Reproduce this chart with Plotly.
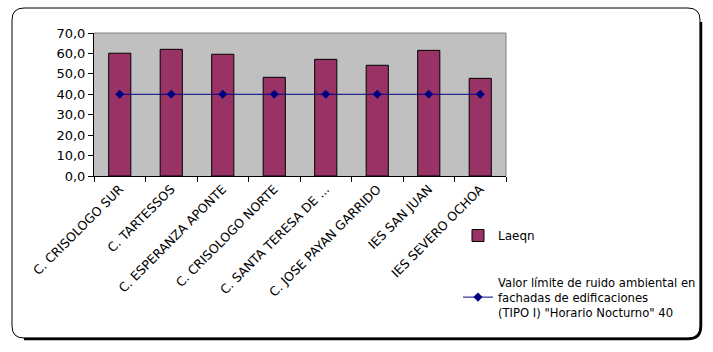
import plotly.graph_objects as go

categories = ["C. CRISOLOGO SUR", "C. TARTESSOS", "C. ESPERANZA APONTE", "C. CRISOLOGO NORTE",
              "C. SANTA TERESA DE ...", "C. JOSE PAYAN GARRIDO", "IES SAN JUAN", "IES SEVERO OCHOA"]
laeqn = [60.1, 62.0, 59.6, 48.3, 57.1, 54.2, 61.5, 47.8]
limite = [40, 40, 40, 40, 40, 40, 40, 40]
y_ticks = [0, 10, 20, 30, 40, 50, 60, 70]

W, H = 713, 352
L, R, T, B = 94, 506, 33, 176

def px(x):
    return (x - L) / (R - L)

def py(y):
    return (B - y) / (B - T)

FONT = "DejaVu Sans, Liberation Sans, Arial, sans-serif"

fig = go.Figure()
fig.add_trace(go.Bar(
    x=categories, y=laeqn, name="Laeqn",
    marker=dict(color="#993366", line=dict(color="black", width=1)),
    legend="legend",
))
fig.add_trace(go.Scatter(
    x=categories, y=limite, mode="lines+markers",
    name='Valor límite de ruido ambiental en<br>fachadas de edificaciones<br>(TIPO I) "Horario Nocturno" 40',
    line=dict(color="#000080", width=1),
    marker=dict(symbol="diamond", size=7, color="#000080"),
    legend="legend2",
))

def rrect(x0, y0, x1, y1, r):
    pts = (f"M {px(x0 + r)},{py(y0)} L {px(x1 - r)},{py(y0)} Q {px(x1)},{py(y0)} {px(x1)},{py(y0 + r)} "
           f"L {px(x1)},{py(y1 - r)} Q {px(x1)},{py(y1)} {px(x1 - r)},{py(y1)} "
           f"L {px(x0 + r)},{py(y1)} Q {px(x0)},{py(y1)} {px(x0)},{py(y1 - r)} "
           f"L {px(x0)},{py(y0 + r)} Q {px(x0)},{py(y0)} {px(x0 + r)},{py(y0)} Z")
    return pts

shadow = (f"M {px(701)},{py(22)} L {px(701)},{py(326)} Q {px(701)},{py(339)} {px(688)},{py(339)} "
          f"L {px(24)},{py(339)}")

fig.update_layout(
    width=W, height=H,
    margin=dict(l=L, r=W - R, t=T, b=H - B, autoexpand=False),
    paper_bgcolor="white", plot_bgcolor="#C0C0C0",
    font=dict(family=FONT, size=12, color="black"),
    separators=",.",
    bargap=0.57,
    showlegend=True,
    legend=dict(xref="container", yref="container", x=458 / W, y=1 - 221 / H,
                xanchor="left", yanchor="top",
                bgcolor="rgba(0,0,0,0)", font=dict(size=12), itemwidth=30),
    legend2=dict(xref="container", yref="container", x=458 / W, y=1 - 268 / H,
                 xanchor="left", yanchor="top",
                 bgcolor="rgba(0,0,0,0)", font=dict(size=11.6), itemwidth=30),
    xaxis=dict(type="category", showgrid=False, showline=True, linecolor="black", linewidth=1,
               ticks="outside", tickson="boundaries", ticklen=5, tickcolor="black",
               tickangle=-45, tickfont=dict(size=12.5), mirror=False, automargin=False),
    yaxis=dict(range=[0, 70], tickvals=y_ticks, tickformat=".1f", showgrid=False,
               showline=True, linecolor="black", linewidth=1, ticks="outside", ticklen=5,
               tickcolor="black", zeroline=False, tickfont=dict(size=13), automargin=False),
    shapes=[
        dict(type="line", xref="paper", yref="paper", x0=0, x1=1, y0=1, y1=1,
             line=dict(color="#808080", width=1)),
        dict(type="line", xref="paper", yref="paper", x0=1, x1=1, y0=0, y1=1,
             line=dict(color="#808080", width=1)),
        dict(type="path", xref="paper", yref="paper", path=rrect(12, 8, 700, 338, 12),
             line=dict(color="black", width=1)),
        dict(type="path", xref="paper", yref="paper", path=shadow,
             line=dict(color="black", width=2.5)),
    ],
)

fig.write_html("out.html")
